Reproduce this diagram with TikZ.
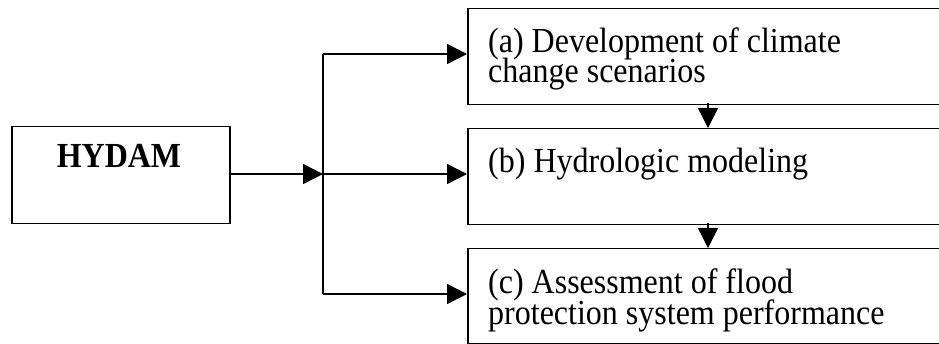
\documentclass[tikz,border=0pt]{standalone}
\usepackage{fontspec}
\setmainfont{Liberation Serif}
\usetikzlibrary{arrows.meta}
\newcommand{\vst}[1]{\scalebox{1}[1.1]{#1}}
\begin{document}
\begin{tikzpicture}[x=1pt,y=-1pt,
  box/.style={draw, line width=1.5pt, rectangle, inner sep=0pt, anchor=north west},
  lbl/.style={anchor=base west, inner sep=0pt, font=\fontsize{32}{30}\selectfont},
  arr/.style={line width=1.5pt, -{Triangle[length=20pt,width=20pt]}},
  ln/.style={line width=1.5pt}]
\useasboundingbox (0,0) rectangle (939,344);
\clip (0,0) rectangle (939,344);
\node[box, minimum width=218pt, minimum height=97pt] (h) at (11,126) {};
\node[anchor=base, inner sep=0pt, font=\fontsize{32}{30}\selectfont\bfseries] (ht) at (119,168) {\vst{HYDAM}};
\node[box, minimum width=490pt, minimum height=96pt] (a) at (467,8) {};
\node[box, minimum width=490pt, minimum height=96pt] (b) at (467,128) {};
\node[box, minimum width=490pt, minimum height=95pt] (c) at (467,248) {};
\node[lbl] (ta1) at (488,53) {\vst{(a) Development of climate}};
\node[lbl] (ta2) at (488,83) {\vst{change scenarios}};
\node[lbl] (tb) at (488,173) {\vst{(b) Hydrologic modeling}};
\node[lbl] (tc1) at (488,294) {\vst{(c) Assessment of flood}};
\node[lbl] (tc2) at (488,324) {\vst{protection system performance}};
\coordinate (j) at (323,174);
\coordinate (ax) at (708,0);
\draw[arr] (h.east |- j) -- (j);
\draw[arr] (j) -- (b.west |- j);
\draw[ln] (j) -- (j |- 0,54);
\draw[arr] (j |- 0,54) -- (a.west |- 0,54);
\draw[ln] (j) -- (j |- 0,294);
\draw[arr] (j |- 0,294) -- (c.west |- 0,294);
\draw[arr] ([yshift=2pt]a.south -| ax) -- (b.north -| ax);
\draw[arr] ([yshift=2pt]b.south -| ax) -- (c.north -| ax);
\end{tikzpicture}
\end{document}
